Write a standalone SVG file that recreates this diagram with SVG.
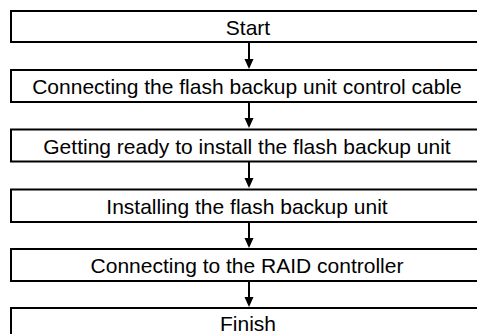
<svg xmlns="http://www.w3.org/2000/svg" width="477" height="334" viewBox="0 0 477 334">
<style>
.box{fill:#fff;stroke:#000;stroke-width:2}
.lbl{font-family:"Liberation Sans",Arial,sans-serif;font-size:21px;fill:#000;text-anchor:middle}
.ln{stroke:#000;stroke-width:2;fill:none}
.hd{fill:#000}
</style>
<rect width="477" height="334" fill="#fff"/>
<g id="connectors">
<line class="ln" x1="249" y1="42" x2="249" y2="60"/><polygon class="hd" points="244.5,59 253.5,59 249,69"/>
<line class="ln" x1="249" y1="102" x2="249" y2="119"/><polygon class="hd" points="244.5,118 253.5,118 249,128"/>
<line class="ln" x1="249" y1="161" x2="249" y2="179"/><polygon class="hd" points="244.5,178 253.5,178 249,188"/>
<line class="ln" x1="249" y1="221" x2="249" y2="239"/><polygon class="hd" points="244.5,238 253.5,238 249,248"/>
<line class="ln" x1="249" y1="281" x2="249" y2="298"/><polygon class="hd" points="244.5,297 253.5,297 249,307"/>
</g>
<g id="n1"><rect class="box" x="11" y="11" width="480" height="31"/><text class="lbl" x="248" y="34.5">Start</text></g>
<g id="n2"><rect class="box" x="11" y="70" width="480" height="32"/><text class="lbl" x="247" y="94">Connecting the flash backup unit control cable</text></g>
<g id="n3"><rect class="box" x="11" y="129.5" width="480" height="32"/><text class="lbl" x="247" y="153.5">Getting ready to install the flash backup unit</text></g>
<g id="n4"><rect class="box" x="11" y="189.5" width="480" height="32.5"/><text class="lbl" x="247" y="213.5">Installing the flash backup unit</text></g>
<g id="n5"><rect class="box" x="11" y="249" width="480" height="32"/><text class="lbl" x="247" y="273">Connecting to the RAID controller</text></g>
<g id="n6"><rect class="box" x="11" y="308" width="480" height="40"/><text class="lbl" x="248" y="331">Finish</text></g>
</svg>
